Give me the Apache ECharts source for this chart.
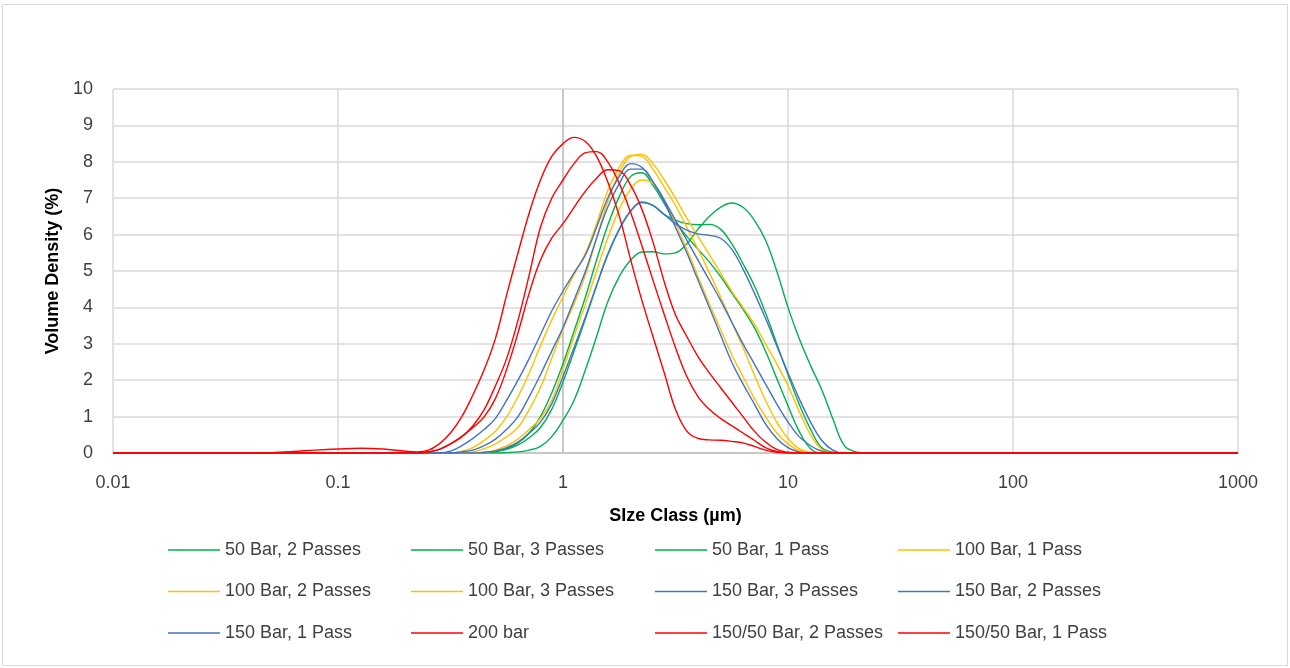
<!DOCTYPE html>
<html><head><meta charset="utf-8">
<script src="https://cdn.jsdelivr.net/npm/echarts@6/dist/echarts.min.js"></script>
<style>html,body{margin:0;padding:0;background:#fff}#c{width:1290px;height:668px}</style>
</head><body><div id="c"></div><script>
// Size classes (µm): 0.01, then -1.4..-0.7 decades (0.1 step), then -0.65..1.35 (0.05 step), 25.1, 1000
const sizeClasses = [0.01,
  0.0398, 0.0501, 0.0631, 0.0794, 0.1, 0.126, 0.158, 0.2,
  0.224, 0.251, 0.282, 0.316, 0.355, 0.398, 0.447, 0.501, 0.562, 0.631, 0.708, 0.794, 0.891,
  1, 1.12, 1.26, 1.41, 1.58, 1.78, 2.0, 2.24, 2.51, 2.82, 3.16, 3.55, 3.98, 4.47, 5.01, 5.62, 6.31, 7.08, 7.94, 8.91,
  10, 11.2, 12.6, 14.1, 15.8, 17.8, 20.0, 22.4,
  25.1, 1000];
const xTickLabels = ['0.01', '0.1', '1', '10', '100', '1000'];
const yMin = 0, yMax = 10, yStep = 1;
const yAxisCrossesAt = 1;

// Volume density (%) per size class (same order as sizeClasses)
const bar50_2 = [0, 0,0,0,0,0,0,0,0,
  0,0,0,0,0,0,
  0.01,0.04,0.1,0.22,0.42,0.7,1.2,1.95, 2.8,3.7,4.6,5.45,6.15,6.65,6.9,6.8,
  6.55,6.4,6.3,6.27,6.28,6.15,5.75,5.2, 4.6,3.85,3.0,2.15,1.35,0.65,0.15,0.02,
  0,0,0, 0, 0];
const bar50_3 = [0, 0,0,0,0,0,0,0,0,
  0,0,0,0,0,0,
  0.01,0.04,0.12,0.28,0.55,1.0,1.65,2.45, 3.35,4.3,5.3,6.25,7.05,7.6,7.7,7.35,
  6.85,6.35,5.95,5.6,5.25,4.85,4.4,3.95, 3.45,2.8,2.05,1.3,0.6,0.12,
  0,0,0,0,0, 0, 0];
const bar50_1 = [0, 0,0,0,0,0,0,0,0,
  0,0,0,0,0,0,0,0,
  0.01,0.03,0.08,0.18,0.45,0.9,1.45,2.3, 3.2,4.15,4.85,5.3,5.52,5.53,5.47,5.5,
  5.75,6.15,6.5,6.75,6.87,6.75,6.4,5.85, 5.0,4.0,3.15,2.4,1.75,0.95,0.2,0.03,
  0, 0, 0];
const bar100_1 = [0, 0,0,0,0,0,0,0,0,
  0,0,0,0,
  0.05,0.15,0.35,0.6,1.0,1.55,2.2,2.95, 3.65,4.3,4.9,5.5,6.3,7.2,7.85,8.18,
  8.15,7.8,7.3,6.8,6.2,5.6,4.95,4.3, 3.6,2.9,2.15,1.45,0.85,0.4,0.12,0.02,
  0,0,0,0,0, 0, 0];
const bar100_2 = [0, 0,0,0,0,0,0,0,0,
  0,0,0,0,0,
  0.03,0.12,0.25,0.45,0.7,1.2,1.8,2.6, 3.4,4.1,4.9,5.9,6.9,7.7,8.15,8.2,
  7.95,7.5,7.0,6.45,5.95,5.45,4.95,4.45, 4.0,3.55,3.0,2.45,1.85,1.15,0.5,0.1,
  0,0,0,0, 0, 0];
const bar100_3 = [0, 0,0,0,0,0,0,0,0,
  0,0,0,0,0,0,
  0.02,0.08,0.2,0.38,0.65,0.95,1.45,2.3, 3.2,4.1,5.0,5.9,6.7,7.25,7.5,7.4,
  6.95,6.3,5.6,4.85,4.1,3.4,2.7,2.1, 1.5,1.0,0.55,0.25,0.06,
  0,0,0,0,0,0, 0, 0];
const bar150_3 = [0, 0,0,0,0,0,0,0,0,
  0,0,0,
  0.05,0.2,0.4,0.65,0.95,1.45,2.0,2.6, 3.25,3.9,4.45,4.95,5.45,6.2,7.0,7.6,
  7.95,7.85,7.45,6.9,6.2,5.5,4.75,4.0, 3.25,2.5,1.9,1.35,0.8,0.4,0.15,0.03,
  0,0,0,0,0,0, 0, 0];
const bar150_2 = [0, 0,0,0,0,0,0,0,0,
  0,0,0,0,
  0.03,0.08,0.2,0.38,0.65,1.0,1.55,2.15, 2.8,3.45,4.2,5.0,5.9,6.75,7.4,7.8,
  7.8,7.45,6.95,6.4,5.85,5.3,4.75,4.2, 3.6,3.0,2.45,1.9,1.35,0.85,0.45,0.2, 0.05,
  0,0,0,0, 0, 0];
const bar150_1 = [0, 0,0,0,0,0,0,0,0,
  0,0,0,0,0,0,
  0.02,0.06,0.15,0.3,0.55,0.85,1.35,2.1, 2.9,3.75,4.6,5.45,6.15,6.65,6.88,6.8,
  6.55,6.3,6.12,6.02,5.98,5.9,5.6,5.05, 4.4,3.7,2.95,2.2,1.5,0.85,0.35,0.08,
  0,0,0, 0, 0];
const bar200 = [0, 0,0.01,0.04,0.08,0.11,0.13,0.11,0.05,
  0.03,0.07,0.25,0.55,1.0,1.6,2.3,3.15, 4.35,5.5,6.6,7.5,8.15,8.5,8.67,8.55,
  8.15,7.45,6.5,5.3,4.2,3.2,2.2,1.2, 0.6,0.4,0.36,0.35,0.32,0.28,0.18,0.08, 0.02,
  0,0,0,0,0,0,0,0, 0, 0];
const bar150_50_2 = [0, 0,0,0,0,0,0,0,0,
  0,0.03,0.1,0.25,0.45,0.75,1.2,1.85, 2.6,3.65,4.9,6.2,7.0,7.5,7.95,8.25,
  8.28,8.0,7.4,6.6,5.7,4.75,3.8,2.9, 2.1,1.55,1.2,0.95,0.75,0.55,0.35,0.15, 0.04,
  0,0,0,0,0,0,0,0, 0, 0];
const bar150_50_1 = [0, 0,0,0,0,0,0,0,0,
  0,0.03,0.1,0.25,0.45,0.7,1.0,1.5, 2.3,3.3,4.4,5.3,5.9,6.3,6.75,7.2,
  7.55,7.78,7.75,7.35,6.7,5.8,4.7,3.8, 3.2,2.65,2.2,1.8,1.4,1.0,0.6,0.3, 0.1,0.02,
  0,0,0,0,0,0,0, 0, 0];

const GREEN = '#00B050', YELLOW = '#FFC000', BLUE = '#4472C4', RED = '#FF0000';
const FONT = '"Liberation Sans", Arial, sans-serif';

const seriesDefs = [
  { name: '50 Bar, 2 Passes', values: bar50_2, color: GREEN },
  { name: '50 Bar, 3 Passes', values: bar50_3, color: GREEN },
  { name: '50 Bar, 1 Pass', values: bar50_1, color: GREEN },
  { name: '100 Bar, 1 Pass', values: bar100_1, color: YELLOW },
  { name: '100 Bar, 2 Passes', values: bar100_2, color: YELLOW },
  { name: '100 Bar, 3 Passes', values: bar100_3, color: YELLOW },
  { name: '150 Bar, 3 Passes', values: bar150_3, color: BLUE },
  { name: '150 Bar, 2 Passes', values: bar150_2, color: BLUE },
  { name: '150 Bar, 1 Pass', values: bar150_1, color: BLUE },
  { name: '200 bar', values: bar200, color: RED },
  { name: '150/50 Bar, 2 Passes', values: bar150_50_2, color: RED },
  { name: '150/50 Bar, 1 Pass', values: bar150_50_1, color: RED }
];

const legendColumns = [
  ['50 Bar, 2 Passes', '100 Bar, 2 Passes', '150 Bar, 1 Pass'],
  ['50 Bar, 3 Passes', '100 Bar, 3 Passes', '200 bar'],
  ['50 Bar, 1 Pass', '150 Bar, 3 Passes', '150/50 Bar, 2 Passes'],
  ['100 Bar, 1 Pass', '150 Bar, 2 Passes', '150/50 Bar, 1 Pass']
];
const legendLefts = [163, 406, 650, 893];

const chart = echarts.init(document.getElementById('c'), null, { renderer: 'canvas' });

const series = [{
  name: '__axis', type: 'line', silent: true, symbol: 'none', z: 1,
  data: [[yAxisCrossesAt, yMin], [yAxisCrossesAt, yMax]],
  lineStyle: { color: '#BFBFBF', width: 1.5 }, itemStyle: { color: '#BFBFBF' }
}].concat(seriesDefs.map(d => ({
  name: d.name, type: 'line', symbol: 'none', smooth: 0.4, z: 3,
  data: sizeClasses.map((x, i) => [x, d.values[i]]),
  lineStyle: { color: d.color, width: 1.4 }, itemStyle: { color: d.color }
})));

function fmtX(v) {
  const idx = Math.round(Math.log10(v)) + 2;
  return xTickLabels[idx] !== undefined ? xTickLabels[idx] : String(v);
}

chart.setOption({
  animation: false,
  backgroundColor: '#fff',
  graphic: [{
    type: 'rect', shape: { x: 2.5, y: 4.5, width: 1285, height: 661 },
    style: { fill: 'none', stroke: '#D9D9D9', lineWidth: 1 }, silent: true, z: -10
  }],
  grid: { left: 113, right: 52, top: 89, bottom: 215, containLabel: false },
  xAxis: {
    type: 'log', logBase: 10, min: 0.01, max: 1000,
    name: 'SIze Class (µm)', nameLocation: 'middle', nameGap: 54,
    nameTextStyle: { fontFamily: FONT, fontSize: 18, fontWeight: 'bold', color: '#000' },
    axisLine: { show: true, lineStyle: { color: '#BFBFBF', width: 1.5 } },
    axisTick: { show: false },
    axisLabel: { margin: 21, fontFamily: FONT, fontSize: 18, color: '#404040', formatter: fmtX },
    splitLine: { show: true, lineStyle: { color: '#D9D9D9', width: 1.5 } },
    minorTick: { show: false }, minorSplitLine: { show: false }
  },
  yAxis: {
    type: 'value', min: yMin, max: yMax, interval: yStep,
    name: 'Volume Density (%)', nameLocation: 'middle', nameGap: 47,
    nameTextStyle: { fontFamily: FONT, fontSize: 18, fontWeight: 'bold', color: '#000' },
    axisLine: { show: false }, axisTick: { show: false },
    axisLabel: { margin: 20, fontFamily: FONT, fontSize: 18, color: '#404040' },
    splitLine: { show: true, lineStyle: { color: '#D9D9D9', width: 1.5 } }
  },
  legend: legendColumns.map((names, i) => ({
    orient: 'vertical', left: legendLefts[i], top: 536,
    icon: 'rect', itemWidth: 52, itemHeight: 1.5, itemGap: 23.5,
    data: names, selectedMode: false,
    textStyle: { fontFamily: FONT, fontSize: 18, color: '#404040', lineHeight: 18 }
  })),
  series: series
});
</script></body></html>
